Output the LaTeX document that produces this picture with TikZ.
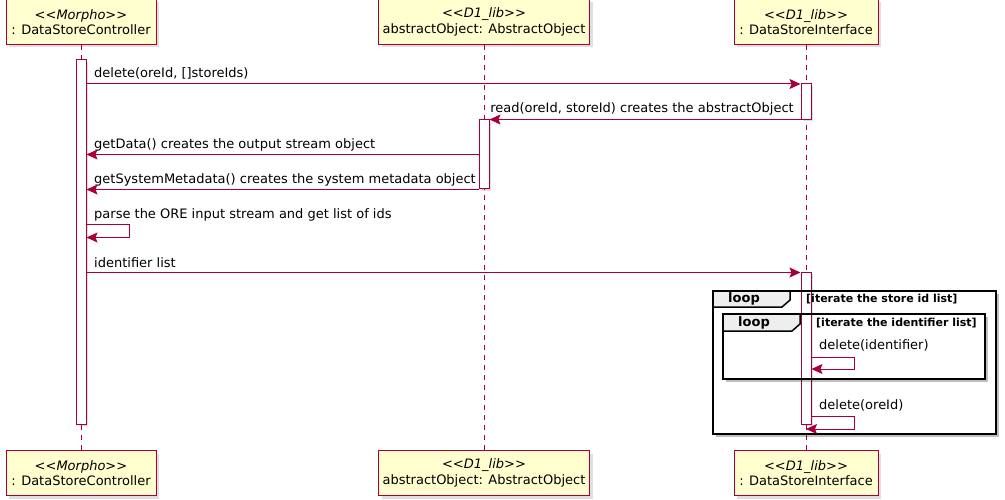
\documentclass[tikz,border=0pt]{standalone}
\usepackage{fontspec}
\setmainfont{DejaVu Sans}
\usetikzlibrary{arrows.meta,shadows}
\definecolor{umlred}{HTML}{A80036}
\definecolor{umlfill}{HTML}{FEFECE}
\definecolor{tabgray}{HTML}{EEEEEE}
\newcommand{\stereo}[1]{\textit{\textless\kern0pt\textless #1\textgreater\kern0pt\textgreater}}
\tikzstyle{participant} = [rectangle, draw=umlred, fill=umlfill, line width=1pt, align=center, font=\fontsize{13}{15.5}\selectfont, minimum height=45pt, inner sep=0pt, drop shadow={shadow xshift=3pt, shadow yshift=-3pt, opacity=0.25}]
\tikzstyle{actbar} = [rectangle, draw=umlred, fill=white, line width=1pt, minimum width=10pt, inner sep=0pt, drop shadow={shadow xshift=2pt, shadow yshift=-2pt, opacity=0.25}]
\tikzstyle{lifeline} = [umlred, line width=1pt, dash pattern=on 5pt off 5pt]
\tikzstyle{msg} = [umlred, line width=1pt, -{Stealth[length=11pt, width=10pt, inset=2pt]}]
\tikzstyle{lbl} = [font=\fontsize{13}{15.5}\selectfont, inner sep=0pt, anchor=west]
\tikzstyle{frame} = [black, line width=1.5pt]
\tikzstyle{looptab} = [font=\bfseries\fontsize{13}{15}\selectfont, inner sep=0pt]
\tikzstyle{guard} = [font=\bfseries\fontsize{11}{13}\selectfont, inner sep=0pt, anchor=west]

\begin{document}
\begin{tikzpicture}[x=1pt, y=-1pt]
	\useasboundingbox (0,0) rectangle (1005,500);

	% participants
	\node (ctrlTop) [participant, minimum width=150pt] at (81,22) {\stereo{Morpho}\\: DataStoreController};
	\node (absTop) [participant, minimum width=211pt] at (484,22) {\stereo{D1\_lib}\\abstractObject: AbstractObject};
	\node (ifaceTop) [participant, minimum width=144pt] at (806,22) {\stereo{D1\_lib}\\: DataStoreInterface};
	\node (ctrlBot) [participant, minimum width=150pt] at (81,473) {\stereo{Morpho}\\: DataStoreController};
	\node (absBot) [participant, minimum width=211pt] at (484,473) {\stereo{D1\_lib}\\abstractObject: AbstractObject};
	\node (ifaceBot) [participant, minimum width=144pt] at (806,473) {\stereo{D1\_lib}\\: DataStoreInterface};

	\draw [lifeline] (ctrlTop) -- (ctrlBot);
	\draw [lifeline] (absTop) -- (absBot);
	\draw [lifeline] (ifaceTop) -- (ifaceBot);

	% activations
	\node (actC) [actbar, minimum height=364pt] at (81,242) {};
	\node (actI1) [actbar, minimum height=35.5pt] at (806,101.75) {};
	\node (actA) [actbar, minimum height=69.5pt] at (484,154.25) {};
	\node (actI2) [actbar, minimum height=152pt] at (806,348) {};

	% messages
	\node (lDelete) [lbl] at (94,73.5) {delete(oreId, []storeIds)};
	\draw [msg] (actC.east |- 0,84) -- (actI1.west |- 0,84);
	\node (lRead) [lbl, anchor=east] at (794,108.5) {read(oreId, storeId) creates the abstractObject};
	\draw [msg] (actI1.west |- 0,119.5) -- (actA.east |- 0,119.5);
	\node (lData) [lbl] at (94,144.5) {getData() creates the output stream object};
	\draw [msg] (actA.west |- 0,154.5) -- (actC.east |- 0,154.5);
	\node (lMeta) [lbl] at (94,179.5) {getSystemMetadata() creates the system metadata object};
	\draw [msg] (actA.west |- 0,189.5) -- (actC.east |- 0,189.5);
	\node (lParse) [lbl] at (94,214.5) {parse the ORE input stream and get list of ids};
	\draw [msg] (actC.east |- 0,224.5) -- ++(43,0) |- (actC.east |- 0,237.5);
	\node (lIds) [lbl] at (94,262.5) {identifier list};
	\draw [msg] (actC.east |- 0,272.5) -- (actI2.west |- 0,272.5);

	% loop frames
	\draw [black, opacity=0.25, line width=2pt] (716,436) -- (998,436) -- (998,294);
	\draw [frame] (713,291) rectangle (996,434);
	\draw [frame, fill=tabgray] (713,291) -- (790,291) -- (790,300) -- (782,307) -- (713,307) -- cycle;
	\node (loopOuter) [looptab] at (744,299) {loop};
	\node (gOuter) [guard] at (806,299) {[iterate the store id list]};

	\draw [black, opacity=0.25, line width=2pt] (726,381) -- (987,381) -- (987,317);
	\draw [frame] (723,314) rectangle (985,379);
	\draw [frame, fill=tabgray] (723,314) -- (800,314) -- (800,324) -- (792,331) -- (723,331) -- cycle;
	\node (loopInner) [looptab] at (754,323) {loop};
	\node (gInner) [guard] at (816,323) {[iterate the identifier list]};

	\node (lDelId) [lbl] at (819,345.5) {delete(identifier)};
	\draw [msg] (actI2.east |- 0,357) -- ++(43,0) |- (actI2.east |- 0,369);
	\node (lDelOre) [lbl] at (819,405.5) {delete(oreId)};
	\draw [msg] (actI2.east |- 0,416.5) -- ++(43,0) |- (ifaceTop |- 0,429);

\end{tikzpicture}
\end{document}
